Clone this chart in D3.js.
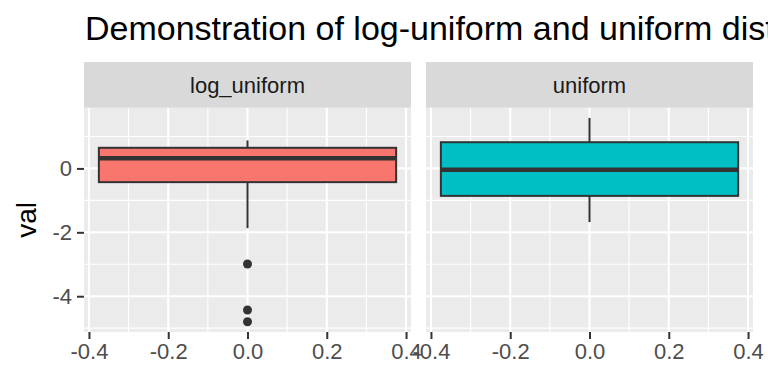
<!DOCTYPE html>
<html>
<head>
<meta charset="utf-8">
<script src="https://cdn.jsdelivr.net/npm/d3@7"></script>
<style>
  body { margin: 0; background: #fff; }
  text { font-family: Arial, "Liberation Sans", sans-serif; }
</style>
</head>
<body>
<div id="chart"></div>
<script>
// box stats, one entry per facet
var categories = ["log_uniform", "uniform"];
var whiskerLow = [-1.87, -1.68];
var q1 = [-0.43, -0.86];
var median = [0.32, -0.04];
var q3 = [0.645, 0.82];
var whiskerHigh = [0.875, 1.58];
var outliers = [[-2.99, -4.43, -4.80], []];
var fills = ["#F8766D", "#00BFC4"];

var xTicks = [-0.4, -0.2, 0.0, 0.2, 0.4];
var xMinor = [-0.3, -0.1, 0.1, 0.3];
var yTicks = [-4, -2, 0];
var yMinor = [-5, -3, -1, 1];

var width = 768, height = 384;
var panelTop = 107.7, panelBottom = 332;
var panelLeft = [84, 426], panelW = 327;
var stripTop = 62;
var tickFont = 22;

var svg = d3.select("#chart").append("svg")
    .attr("width", width)
    .attr("height", height);

// y scale shared by both panels
var y = d3.scaleLinear()
    .domain([-5.12, 1.90])
    .range([panelBottom, panelTop]);

// title (runs off the right edge like the original)
svg.append("text")
    .attr("x", 85)
    .attr("y", 39.5)
    .attr("font-size", 34)
    .attr("fill", "#000")
    .text("Demonstration of log-uniform and uniform distributions");

// y axis title
svg.append("text")
    .attr("transform", "translate(36," + ((panelTop + panelBottom) / 2) + ") rotate(-90)")
    .attr("text-anchor", "middle")
    .attr("font-size", 28)
    .attr("fill", "#000")
    .text("val");

categories.forEach(function(cat, i) {
    var x = d3.scaleLinear()
        .domain([-0.4125, 0.4125])
        .range([panelLeft[i], panelLeft[i] + panelW]);

    var g = svg.append("g");

    // panel background
    g.append("rect")
        .attr("x", panelLeft[i])
        .attr("y", panelTop)
        .attr("width", panelW)
        .attr("height", panelBottom - panelTop)
        .attr("fill", "#EBEBEB");

    // grid lines
    g.selectAll(".xminor").data(xMinor).enter().append("line")
        .attr("x1", d => x(d)).attr("x2", d => x(d))
        .attr("y1", panelTop).attr("y2", panelBottom)
        .attr("stroke", "#fff").attr("stroke-width", 1.1);
    g.selectAll(".yminor").data(yMinor).enter().append("line")
        .attr("x1", panelLeft[i]).attr("x2", panelLeft[i] + panelW)
        .attr("y1", d => y(d)).attr("y2", d => y(d))
        .attr("stroke", "#fff").attr("stroke-width", 1.1);
    g.selectAll(".xmajor").data(xTicks).enter().append("line")
        .attr("x1", d => x(d)).attr("x2", d => x(d))
        .attr("y1", panelTop).attr("y2", panelBottom)
        .attr("stroke", "#fff").attr("stroke-width", 2.1);
    g.selectAll(".ymajor").data(yTicks).enter().append("line")
        .attr("x1", panelLeft[i]).attr("x2", panelLeft[i] + panelW)
        .attr("y1", d => y(d)).attr("y2", d => y(d))
        .attr("stroke", "#fff").attr("stroke-width", 2.1);

    // strip
    g.append("rect")
        .attr("x", panelLeft[i])
        .attr("y", stripTop)
        .attr("width", panelW)
        .attr("height", panelTop - stripTop)
        .attr("fill", "#D9D9D9");
    g.append("text")
        .attr("x", panelLeft[i] + panelW / 2)
        .attr("y", (stripTop + panelTop) / 2)
        .attr("dy", "0.35em")
        .attr("text-anchor", "middle")
        .attr("font-size", tickFont)
        .attr("fill", "#1A1A1A")
        .text(cat);

    // whiskers
    g.append("line")
        .attr("x1", x(0)).attr("x2", x(0))
        .attr("y1", y(whiskerHigh[i])).attr("y2", y(q3[i]))
        .attr("stroke", "#333").attr("stroke-width", 2);
    g.append("line")
        .attr("x1", x(0)).attr("x2", x(0))
        .attr("y1", y(q1[i])).attr("y2", y(whiskerLow[i]))
        .attr("stroke", "#333").attr("stroke-width", 2);

    // box
    g.append("rect")
        .attr("x", x(-0.375))
        .attr("y", y(q3[i]))
        .attr("width", x(0.375) - x(-0.375))
        .attr("height", y(q1[i]) - y(q3[i]))
        .attr("fill", fills[i])
        .attr("stroke", "#333").attr("stroke-width", 2);
    g.append("line")
        .attr("x1", x(-0.375)).attr("x2", x(0.375))
        .attr("y1", y(median[i])).attr("y2", y(median[i]))
        .attr("stroke", "#333").attr("stroke-width", 4.5);

    // outliers
    g.selectAll(".out").data(outliers[i]).enter().append("circle")
        .attr("cx", x(0))
        .attr("cy", d => y(d))
        .attr("r", 4.5)
        .attr("fill", "#333");

    // x axis
    var xAxis = d3.axisBottom(x)
        .tickValues(xTicks)
        .tickSize(7)
        .tickPadding(4)
        .tickFormat(d => d.toFixed(1));
    var ax = g.append("g")
        .attr("transform", "translate(0," + panelBottom + ")")
        .call(xAxis);
    ax.select(".domain").remove();
    ax.selectAll("line").attr("stroke", "#333").attr("stroke-width", 2);
    ax.selectAll("text").attr("font-size", tickFont).attr("fill", "#4D4D4D")
        .attr("font-family", "Arial, 'Liberation Sans', sans-serif");
});

// y axis on the left panel only
var yAxis = d3.axisLeft(y)
    .tickValues(yTicks)
    .tickSize(7)
    .tickPadding(5)
    .tickFormat(d => String(d));
var ay = svg.append("g")
    .attr("transform", "translate(" + panelLeft[0] + ",0)")
    .call(yAxis);
ay.select(".domain").remove();
ay.selectAll("line").attr("stroke", "#333").attr("stroke-width", 2);
ay.selectAll("text").attr("font-size", tickFont).attr("fill", "#4D4D4D")
    .attr("font-family", "Arial, 'Liberation Sans', sans-serif");
</script>
</body>
</html>
